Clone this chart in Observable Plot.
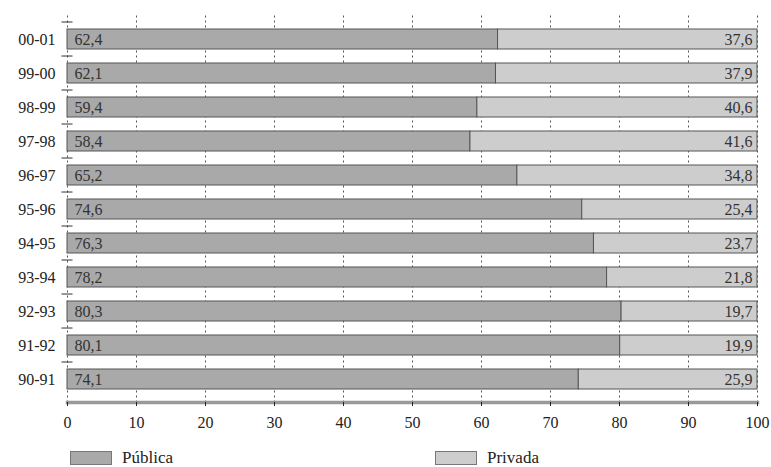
<!DOCTYPE html>
<html><head><meta charset="utf-8">
<script src="https://cdn.jsdelivr.net/npm/d3@7"></script>
<script src="https://cdn.jsdelivr.net/npm/@observablehq/plot@0.6"></script>
<style>
html,body{margin:0;background:#fff;font-family:"Liberation Serif",serif;}
#wrap{width:771px;height:467px;overflow:hidden;}
#wrap svg{display:block;}
#legend{position:relative;height:27px;}
.leg{position:absolute;top:11px;font-size:17px;color:#222;display:flex;align-items:center;line-height:14px;}
.sw{width:40px;height:12px;border:1px solid #777;margin-right:10px;}
</style></head><body><div id="wrap"></div>
<script>
const years = ["00-01","99-00","98-99","97-98","96-97","95-96","94-95","93-94","92-93","91-92","90-91"];
const publica = [62.4,62.1,59.4,58.4,65.2,74.6,76.3,78.2,80.3,80.1,74.1];
const privada = [37.6,37.9,40.6,41.6,34.8,25.4,23.7,21.8,19.7,19.9,25.9];
const xTicks = [0,10,20,30,40,50,60,70,80,90,100];
const series = ["Pública","Privada"];
const colors = ["#a9a9a9","#cdcdcd"];

const rows = [];
years.forEach((y,i)=>{
  rows.push({year:y, tipo:series[0], x1:0, x2:publica[i], v:publica[i]});
  rows.push({year:y, tipo:series[1], x1:publica[i], x2:100, v:privada[i]});
});
const fmt = v => v.toFixed(1).replace(".", ",");

const H = 440, mT = 15.5, mB = 38;
const chart = Plot.plot({
  width:771, height:H,
  marginLeft:67, marginRight:14, marginTop:mT, marginBottom:mB,
  style:{fontFamily:"Liberation Serif, serif", fontSize:"16px", color:"#222", background:"#fff"},
  x:{domain:[0,100], ticks:xTicks, label:null},
  y:{domain:years, paddingInner:0.4, paddingOuter:0.23, label:null},
  color:{domain:series, range:colors},
  marks:[
    Plot.ruleX(xTicks, {stroke:"#555", strokeDasharray:"2,3", strokeWidth:1}),
    Plot.barX(rows, {y:"year", x1:"x1", x2:"x2", fill:"tipo", stroke:"#555", strokeWidth:1}),
    Plot.text(rows.filter(d=>d.tipo===series[0]), {y:"year", x:"x1", text:d=>fmt(d.v), textAnchor:"start", dx:7, fill:"#333", fontSize:16}),
    Plot.text(rows.filter(d=>d.tipo===series[1]), {y:"year", x:"x2", text:d=>fmt(d.v), textAnchor:"end", dx:-5, fill:"#333", fontSize:16}),
    Plot.ruleY(years, {y:d=>d, x1:-0.8, x2:0.8, dy:-(H-mT-mB)/(11-0.4+0.46)/2, stroke:"#333"}),
    Plot.frame({anchor:"bottom", stroke:"#999", strokeWidth:3.5}),
    Plot.axisY({tickSize:0, tickPadding:12, fontSize:16}),
    Plot.axisX({ticks:xTicks, tickSize:4, tickPadding:10, fontSize:16, tickFormat:d=>d})
  ]
});
const wrap = document.getElementById("wrap");
wrap.appendChild(chart);
const leg = document.createElement("div"); leg.id="legend"; wrap.appendChild(leg);
[[70,0],[435,1]].forEach(([left,i])=>{
  const d=document.createElement("div");d.className="leg";d.style.left=left+"px";
  d.innerHTML=`<div class="sw" style="background:${colors[i]}"></div>${series[i]}`;
  leg.appendChild(d);
});
</script></body></html>
